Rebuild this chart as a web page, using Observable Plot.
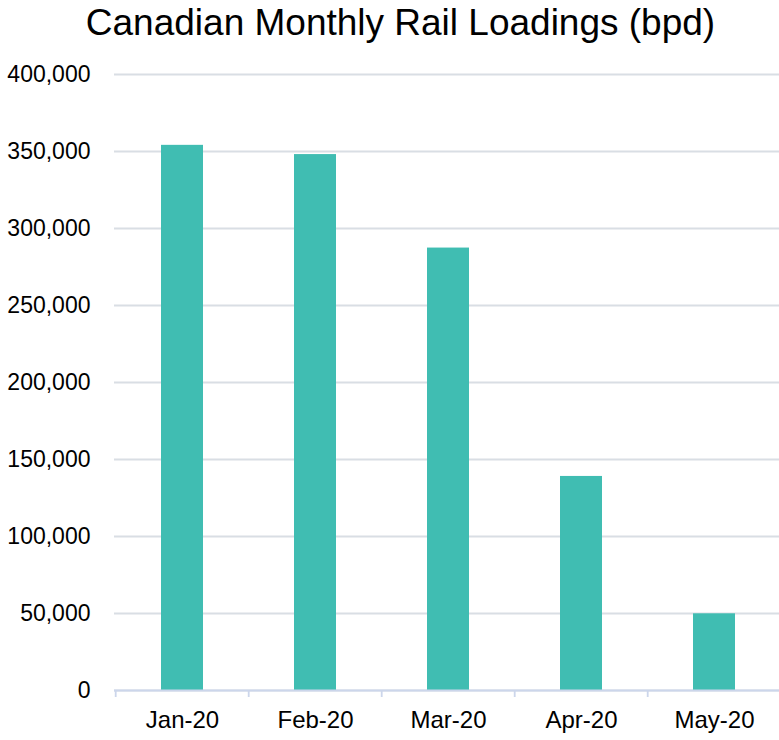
<!DOCTYPE html>
<html>
<head>
<meta charset="utf-8">
<script src="https://cdn.jsdelivr.net/npm/d3@7"></script>
<script src="https://cdn.jsdelivr.net/npm/@observablehq/plot@0.6"></script>
<style>
  html, body { margin: 0; padding: 0; background: #fff; overflow: hidden; }
  body { width: 779px; height: 740px; font-family: "Liberation Sans", Arial, sans-serif; }
  #title {
    box-sizing: border-box;
    height: 50px;
    padding-top: 2px;
    padding-left: 22px;
    width: 779px;
    text-align: center;
    font-size: 37px;
    line-height: 42px;
    color: #000;
    white-space: nowrap;
  }
  #chart { width: 779px; overflow: hidden; }
  svg { display: block; }
</style>
</head>
<body>
<div id="title">Canadian Monthly Rail Loadings (bpd)</div>
<div id="chart"></div>
<script>
const months = ["Jan-20", "Feb-20", "Mar-20", "Apr-20", "May-20"];
const loadings = [354000, 348000, 287300, 139000, 49800];
const yTicks = [0, 50000, 100000, 150000, 200000, 250000, 300000, 350000, 400000];

const width = 782, marginLeft = 114, marginRight = 0;
const step = (width - marginLeft - marginRight) / months.length;
const data = months.map((m, i) => ({month: m, value: loadings[i]}));

const plot = Plot.plot({
  width,
  height: 690,
  marginTop: 24,
  marginBottom: 50,
  marginLeft,
  marginRight,
  style: {fontFamily: "'Liberation Sans', Arial, sans-serif", color: "#000", background: "transparent", maxWidth: "none"},
  x: {domain: months, paddingInner: 0.682, paddingOuter: 0.341},
  y: {domain: [0, 400000]},
  marks: [
    Plot.gridY(yTicks, {stroke: "#d9dee4", strokeOpacity: 1, strokeWidth: 1.8}),
    Plot.barY(data, {x: "month", y: "value", fill: "#40bdb2"}),
    Plot.ruleY([0], {stroke: "#ccd6eb", strokeWidth: 1.8}),
    Plot.axisX(months, {tickSize: 7, tickFormat: () => "", dx: -step / 2, stroke: "#ccd6eb", strokeWidth: 1.8, label: null}),
    Plot.axisX({tickSize: 0, tickPadding: 20, fontSize: 24, fill: "#000", label: null}),
    Plot.axisY(yTicks, {tickSize: 0, tickPadding: 24, fontSize: 23, fill: "#000", tickFormat: d3.format(","), label: null})
  ]
});
plot.style.maxWidth = "none";
document.getElementById("chart").appendChild(plot);
</script>
</body>
</html>
